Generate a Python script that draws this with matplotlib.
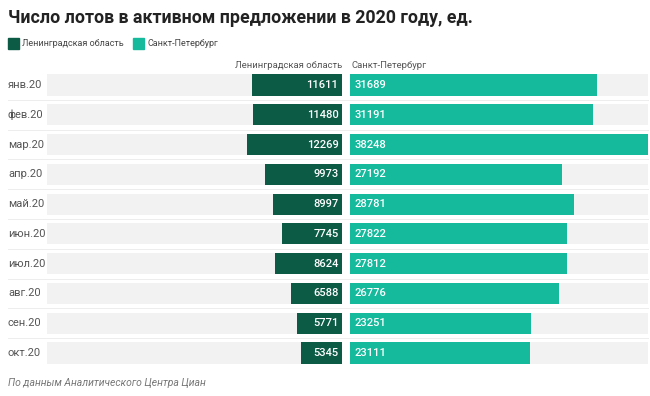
import matplotlib.pyplot as plt

plt.rcParams['font.family'] = ['Roboto', 'DejaVu Sans']

months = ["янв.20", "фев.20", "мар.20", "апр.20", "май.20",
          "июн.20", "июл.20", "авг.20", "сен.20", "окт.20"]
lenobl = [11611, 11480, 12269, 9973, 8997, 7745, 8624, 6588, 5771, 5345]
spb = [31689, 31191, 38248, 27192, 28781, 27822, 27812, 26776, 23251, 23111]

dark = "#0b5b45"
teal = "#15b99b"
grey_bg = "#f2f2f2"

fig = plt.figure(figsize=(6.5, 3.96), dpi=100)
xmax = max(spb)
ypos = list(range(len(months)))
h = 0.71
step = 29.78

axL = fig.add_axes([0.0723, 0.071, 0.4538, 0.752])
axR = fig.add_axes([0.5385, 0.071, 0.4585, 0.752])

for ax, vals, col in [(axL, lenobl, dark), (axR, spb, teal)]:
    ax.barh(ypos, [xmax * 1.02] * len(ypos), height=h, color=grey_bg, zorder=1)
    ax.barh(ypos, vals, height=h, color=col, zorder=2)
    ax.set_xlim(0, xmax)
    ax.set_ylim(len(months) - 0.5, -0.5)
    ax.axis("off")

axL.invert_xaxis()

# faint separators between rows
for i in range(1, len(months)):
    yf = 1 - (85 + (i - 0.5) * step) / 396
    fig.add_artist(plt.Line2D([8 / 650, 648 / 650], [yf, yf], transform=fig.transFigure,
                              color="#ededed", lw=0.7))

for y, v in zip(ypos, lenobl):
    axL.text(xmax * 0.012, y, str(v), ha="right", va="center",
             color="white", fontsize=8, fontweight="medium", zorder=3)
for y, v in zip(ypos, spb):
    axR.text(xmax * 0.014, y, str(v), ha="left", va="center",
             color="white", fontsize=8, fontweight="medium", zorder=3)

for y, m in zip(ypos, months):
    fig.text(8 / 650, 1 - (85 + y * step) / 396, m, ha="left", va="center",
             fontsize=8, color="#555555")

# column headers
fig.text(342 / 650, 1 - 65 / 396, "Ленинградская область", ha="right", va="center",
         fontsize=6.8, color="#555555")
fig.text(352 / 650, 1 - 65 / 396, "Санкт-Петербург", ha="left", va="center",
         fontsize=6.8, color="#555555")

# title
fig.text(8 / 650, 1 - 18 / 396, "Число лотов в активном предложении в 2020 году, ед.",
         ha="left", va="center", fontsize=12.8, fontweight="bold", color="#222222")

# legend
fig.patches.append(plt.Rectangle((8 / 650, 1 - 49 / 396), 11 / 650, 11 / 396,
                                 transform=fig.transFigure, color=dark))
fig.text(22 / 650, 1 - 43.5 / 396, "Ленинградская область", ha="left", va="center",
         fontsize=6.5, color="#444444")
fig.patches.append(plt.Rectangle((133 / 650, 1 - 49 / 396), 11 / 650, 11 / 396,
                                 transform=fig.transFigure, color=teal))
fig.text(147 / 650, 1 - 43.5 / 396, "Санкт-Петербург", ha="left", va="center",
         fontsize=6.5, color="#444444")

# footer
fig.text(8 / 650, 1 - 383 / 396, "По данным Аналитического Центра Циан",
         ha="left", va="center", fontsize=7.5, style="italic", color="#777777")

fig.savefig("out.png", dpi=100)
